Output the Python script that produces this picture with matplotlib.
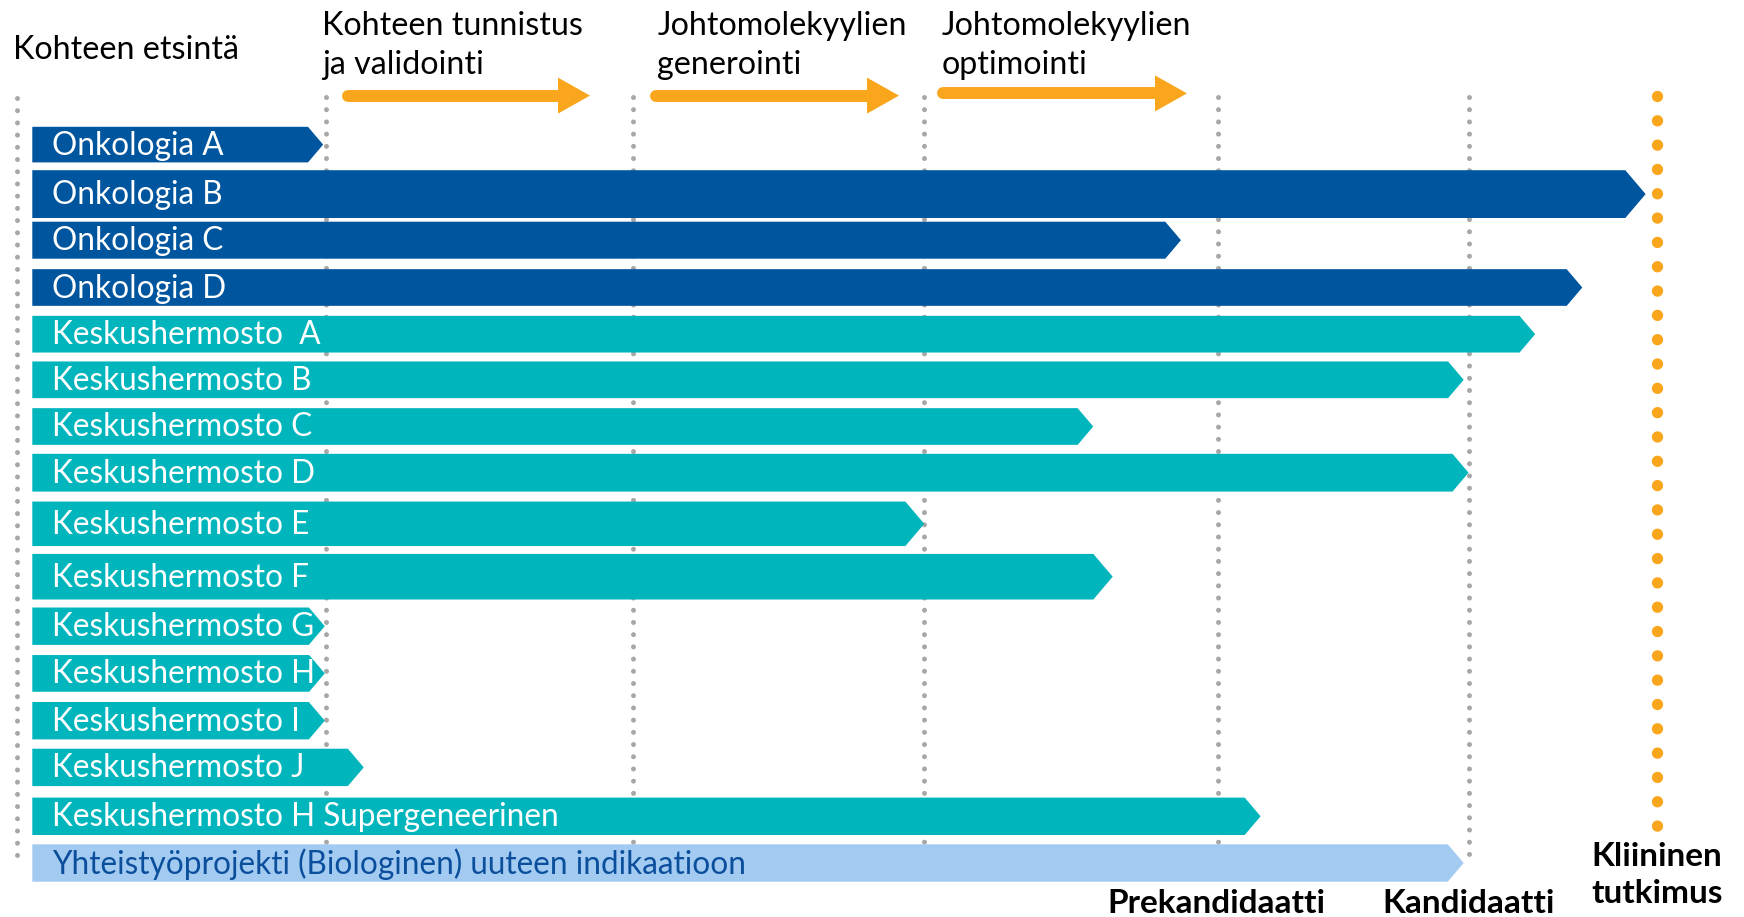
import matplotlib
matplotlib.use("Agg")
import matplotlib.pyplot as plt
from matplotlib.patches import Polygon

plt.rcParams['font.family'] = ['Lato', 'DejaVu Sans']
plt.rcParams['lines.scale_dashes'] = False

# ---------------- data ----------------
projects = ["Onkologia A", "Onkologia B", "Onkologia C", "Onkologia D",
            "Keskushermosto  A", "Keskushermosto B", "Keskushermosto C",
            "Keskushermosto D", "Keskushermosto E", "Keskushermosto F",
            "Keskushermosto G", "Keskushermosto H", "Keskushermosto I",
            "Keskushermosto J", "Keskushermosto H Supergeneerinen",
            "Yhteistyöprojekti (Biologinen) uuteen indikaatioon"]
# progress reached (0 = start of target discovery, 100 = clinical study)
progress = [17.9, 99.3, 70.7, 95.4, 92.5, 88.1, 65.3, 88.4, 54.9, 66.5,
            18.0, 18.0, 18.0, 20.4, 75.6, 88.1]
area = ["onk"] * 4 + ["cns"] * 11 + ["collab"]

stage_headers = ["Kohteen etsintä", "Kohteen tunnistus\nja validointi",
                 "Johtomolekyylien\ngenerointi", "Johtomolekyylien\noptimointi"]
milestones = [-0.96, 18.07, 36.96, 54.9, 73.0, 88.4, 100.0]
milestone_labels = ["", "", "", "", "Prekandidaatti", "Kandidaatti",
                    "Kliininen\ntutkimus"]

# ---------------- styles / layout ----------------
colors = {"onk": "#00559F", "cns": "#00B5BC", "collab": "#A3CBF1"}
text_colors = {"onk": "white", "cns": "white", "collab": "#0B4F9C"}
row_center = [144.6, 194.1, 240.2, 287.5, 334.2, 379.8, 426.5, 472.7,
              523.8, 576.7, 626.2, 673.4, 720.7, 767.4, 816.3, 863.0]
row_height = [35.6, 47.8, 37.0, 36.7, 36.7, 36.7, 36.7, 37.8, 44.5, 45.6,
              37.4, 36.7, 37.4, 37.4, 37.4, 37.4]

W, H = 1744, 917
PX = 16.247          # pixels per progress unit
X0 = 32.3            # pixel position of progress 0


def p(px):
    return (px - X0) / PX


fig = plt.figure(figsize=(W / 100, H / 100), dpi=100)
ax = fig.add_axes([0, 0, 1, 1])
ax.set_xlim(p(0), p(W))
ax.set_ylim(H, 0)
ax.axis("off")

# milestone dotted lines
gray = "#A7A7A7"
for i, m in enumerate(milestones[:-1]):
    y0 = 98 if i == 0 else 97
    ax.plot([m, m], [y0, 857], color=gray, lw=3.6,
            linestyle=(0, (0.01, 8.78)), dash_capstyle="round",
            solid_capstyle="round", zorder=1)
orange = "#F9A61C"
ax.plot([milestones[-1]] * 2, [96, 830], color=orange, lw=8.2,
        linestyle=(0, (0.01, 17.5)), dash_capstyle="round", zorder=1)

# project bars (chevrons)
for name, prog, a, yc, h in zip(projects, progress, area, row_center, row_height):
    tip = 0.85 * h / 2 / PX
    pts = [(0, yc - h / 2), (prog - tip, yc - h / 2), (prog, yc),
           (prog - tip, yc + h / 2), (0, yc + h / 2)]
    ax.add_patch(Polygon(pts, closed=True, facecolor=colors[a],
                         edgecolor="none", zorder=2))
    ax.text(p(52), yc + 1, name, color=text_colors[a], fontsize=22.7,
            va="center", ha="left", zorder=3)

# stage headers
header_x = [13.3, 322.5, 657.3, 942.0]
ax.text(p(header_x[0]), 50.2, stage_headers[0], fontsize=23.2, va="center",
        ha="left", color="black")
for hx, txt in zip(header_x[1:], stage_headers[1:]):
    ax.text(p(hx), 45.6, txt, fontsize=23.2, va="center", ha="left",
            color="black", linespacing=1.38)

# orange stage arrows
arrow_spans = [(348, 590, 95.6), (656, 899, 95.6), (943, 1187, 93.4)]
for xs, xe, ya in arrow_spans:
    head_len, head_w = 32, 36
    ax.plot([p(xs), p(xe - head_len)], [ya, ya], color=orange, lw=8.6,
            solid_capstyle="round", zorder=2)
    ax.add_patch(Polygon([(p(xe - head_len), ya - head_w / 2), (p(xe), ya),
                          (p(xe - head_len), ya + head_w / 2)],
                         closed=True, facecolor=orange, edgecolor="none",
                         zorder=2))

# milestone labels
ax.text(milestones[4] - 0.1, 913, milestone_labels[4], fontsize=24,
        fontweight="bold", ha="center", va="baseline")
ax.text(milestones[5], 913, milestone_labels[5], fontsize=24,
        fontweight="bold", ha="center", va="baseline")
ax.text(milestones[6], 875, milestone_labels[6], fontsize=24,
        fontweight="bold", ha="center", va="center", linespacing=1.3)

fig.savefig("out.png", dpi=100, facecolor="white")
